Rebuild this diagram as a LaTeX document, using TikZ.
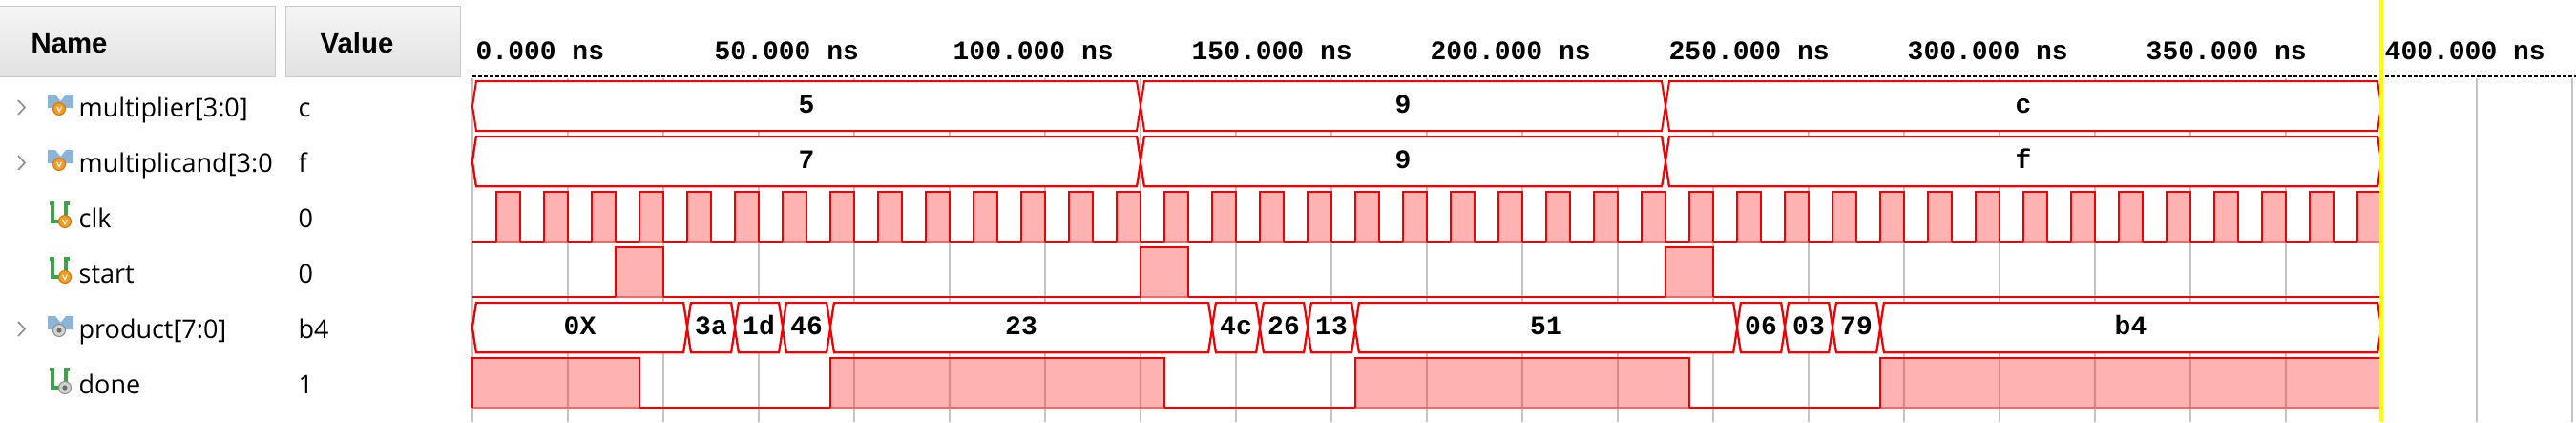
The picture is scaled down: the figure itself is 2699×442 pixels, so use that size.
\documentclass[tikz,border=0pt]{standalone}
\usepackage{fontspec}
\setmainfont{Open Sans}
\setmonofont{Liberation Mono}
\newfontfamily\hdrfont{Liberation Sans}
\usetikzlibrary{positioning}
\definecolor{wred}{HTML}{F00000}
\definecolor{wlow}{HTML}{F06A6A}
\definecolor{gridgray}{HTML}{C4C4C4}
\definecolor{hdrtop}{HTML}{F5F5F5}
\definecolor{hdrbot}{HTML}{E2E2E2}
\definecolor{hdrline}{HTML}{C9C9C9}
\definecolor{busblue}{HTML}{8CB4D6}
\definecolor{sgreen}{HTML}{3FA14A}
\definecolor{vorange}{HTML}{F39C2B}
\definecolor{vorangedk}{HTML}{D07800}
\definecolor{portgray}{HTML}{D2D2D2}
\definecolor{portgraydk}{HTML}{8C8C8C}
\definecolor{portdot}{HTML}{6E6E6E}
\definecolor{arrowgray}{HTML}{8E8E8E}
\definecolor{cursorylw}{HTML}{FFFF00}
\tikzset{
  wave/.style={draw=wred,line width=0.6pt},
  lowedge/.style={draw=wlow,line width=0.6pt},
  hifill/.style={fill=red,fill opacity=0.3},
  busval/.style={font=\ttfamily\bfseries\fontsize{8.4}{10}\selectfont,anchor=base,inner sep=0pt},
  tlabel/.style={font=\ttfamily\bfseries\fontsize{8.4}{10}\selectfont,anchor=base west,inner sep=0pt},
  signame/.style={font=\fontsize{8.1}{10}\selectfont,anchor=base west,inner sep=0pt},
  hdrbox/.style={draw=hdrline,top color=hdrtop,bottom color=hdrbot,line width=0.3pt},
  hdrtext/.style={font=\hdrfont\bfseries\fontsize{8.8}{10}\selectfont,anchor=base west,inner sep=0pt},
  gridline/.style={draw=gridgray,line width=0.4pt},
  portin/.style={fill=vorange,draw=vorangedk,line width=0.3pt},
  portout/.style={fill=portgray,draw=portgraydk,line width=0.3pt}
}
\newcommand\busseg[5]{%
  \draw[wave,fill=white] ({495+5*(#1)},#3) -- ({499+5*(#1)},#3-26) -- ({491+5*(#2)},#3-26)
    -- ({495+5*(#2)},#3) -- ({491+5*(#2)},#3+26) -- ({499+5*(#1)},#3+26) -- cycle;
  \node[busval] (#5) at ({495+2.5*((#1)+(#2))},#3+7) {#4};}
\newcommand\pulse[3]{%
  \fill[hifill] ({495+5*(#1)},#3-26) rectangle ({495+5*(#2)},#3+26);
  \draw[lowedge] ({495+5*(#1)},#3+26) -- ({495+5*(#2)},#3+26);
  \draw[wave] ({495+5*(#1)},#3+26) -- ({495+5*(#1)},#3-26) -- ({495+5*(#2)},#3-26) -- ({495+5*(#2)},#3+26);}
\newcommand\inmark[2]{%
  \filldraw[portin] (#1,#2) circle[radius=6.5];
  \draw[white,line width=0.35pt] (#1-2.4,#2-2.2) -- (#1,#2+2.6) -- (#1+2.4,#2-2.2);}
\newcommand\outmark[2]{%
  \filldraw[portout] (#1,#2) circle[radius=6.5];
  \fill[portdot] (#1,#2) circle[radius=2.6];}
\newcommand\busicon[2]{%
  \draw[arrowgray,line width=0.5pt] (19,#1-6) -- (26,#1+1.5) -- (19,#1+9);
  \fill[busblue] (50,#1-12) -- (58,#1-12) -- (63.5,#1-5) -- (69,#1-12) -- (77,#1-12)
    -- (77,#1+2) -- (50,#1+2) -- cycle;
  #2{62}{#1+3}}
\newcommand\sigicon[2]{%
  \draw[sgreen,line width=1pt] (52,#1-14) -- (55,#1-14) -- (55,#1+5) -- (69,#1+5)
    -- (69,#1-14) -- (73,#1-14);
  #2{68}{#1+5}}
\begin{document}
\begin{tikzpicture}[x=0.3pt,y=-0.3pt]
\useasboundingbox (0,0) rectangle (2699,442);
\fill[white] (0,0) rectangle (2699,442);
\filldraw[hdrbox] (-2,6) rectangle (288,80);
\filldraw[hdrbox] (299,6) rectangle (482,80);
\node[hdrtext] (hname) at (32,55) {Name};
\node[hdrtext] (hvalue) at (335,55) {Value};
\foreach \k in {0,...,22}
  \draw[gridline] ({495+100*\k},82) -- ({495+100*\k},442);
\foreach \k in {0,...,8}{
  \pgfmathtruncatemacro\ns{50*\k}
  \node[tlabel] (t\k) at ({498+250*\k},62) {\ns.000 ns};}
\draw[line width=0.45pt,dash pattern=on 1.2pt off 0.6pt] (495,80) -- (2699,80);
\begin{scope}
\clip (0,82) rectangle (288,442);
\foreach \i/\nm/\yc in {1/{multiplier[3:0]}/111,2/{multiplicand[3:0}/169,3/clk/227,
    4/start/285,5/{product[7:0]}/343,6/done/401}
  \node[signame] (n\i) at (82,\yc+11.5) {\nm};
\end{scope}
\foreach \i/\vl/\yc in {1/c/111,2/f/169,3/0/227,4/0/285,5/b4/343,6/1/401}
  \node[signame] (v\i) at (312,\yc+11.5) {\vl};
\busicon{111}{\inmark}
\busicon{169}{\inmark}
\sigicon{227}{\inmark}
\sigicon{285}{\inmark}
\busicon{343}{\outmark}
\sigicon{401}{\outmark}
\foreach \a/\b/\v in {0/140/5,140/250/9,250/400/c}
  \busseg{\a}{\b}{111}{\v}{mr\v}
\foreach \a/\b/\v in {0/140/7,140/250/9,250/400/f}
  \busseg{\a}{\b}{169}{\v}{md\v}
\draw[wave] (495,253) -- (2495,253);
\foreach \k in {0,...,39}
  \pulse{10*\k+5}{10*\k+10}{227}
\draw[wave] (495,311) -- (2495,311);
\foreach \a/\b in {30/40,140/150,250/260}
  \pulse{\a}{\b}{285}
\foreach \a/\b/\v in {0/45/0X,45/55/3a,55/65/1d,65/75/46,75/155/23,155/165/4c,165/175/26,
    175/185/13,185/265/51,265/275/06,275/285/03,285/295/79,295/400/b4}
  \busseg{\a}{\b}{343}{\v}{pr\v}
\draw[wave] (495,427) -- (2495,427);
\foreach \a/\b in {0/35,75/145,185/255,295/400}
  \pulse{\a}{\b}{401}
\draw[cursorylw,line width=1.2pt] (2495,0) -- (2495,442);
\end{tikzpicture}
\end{document}
